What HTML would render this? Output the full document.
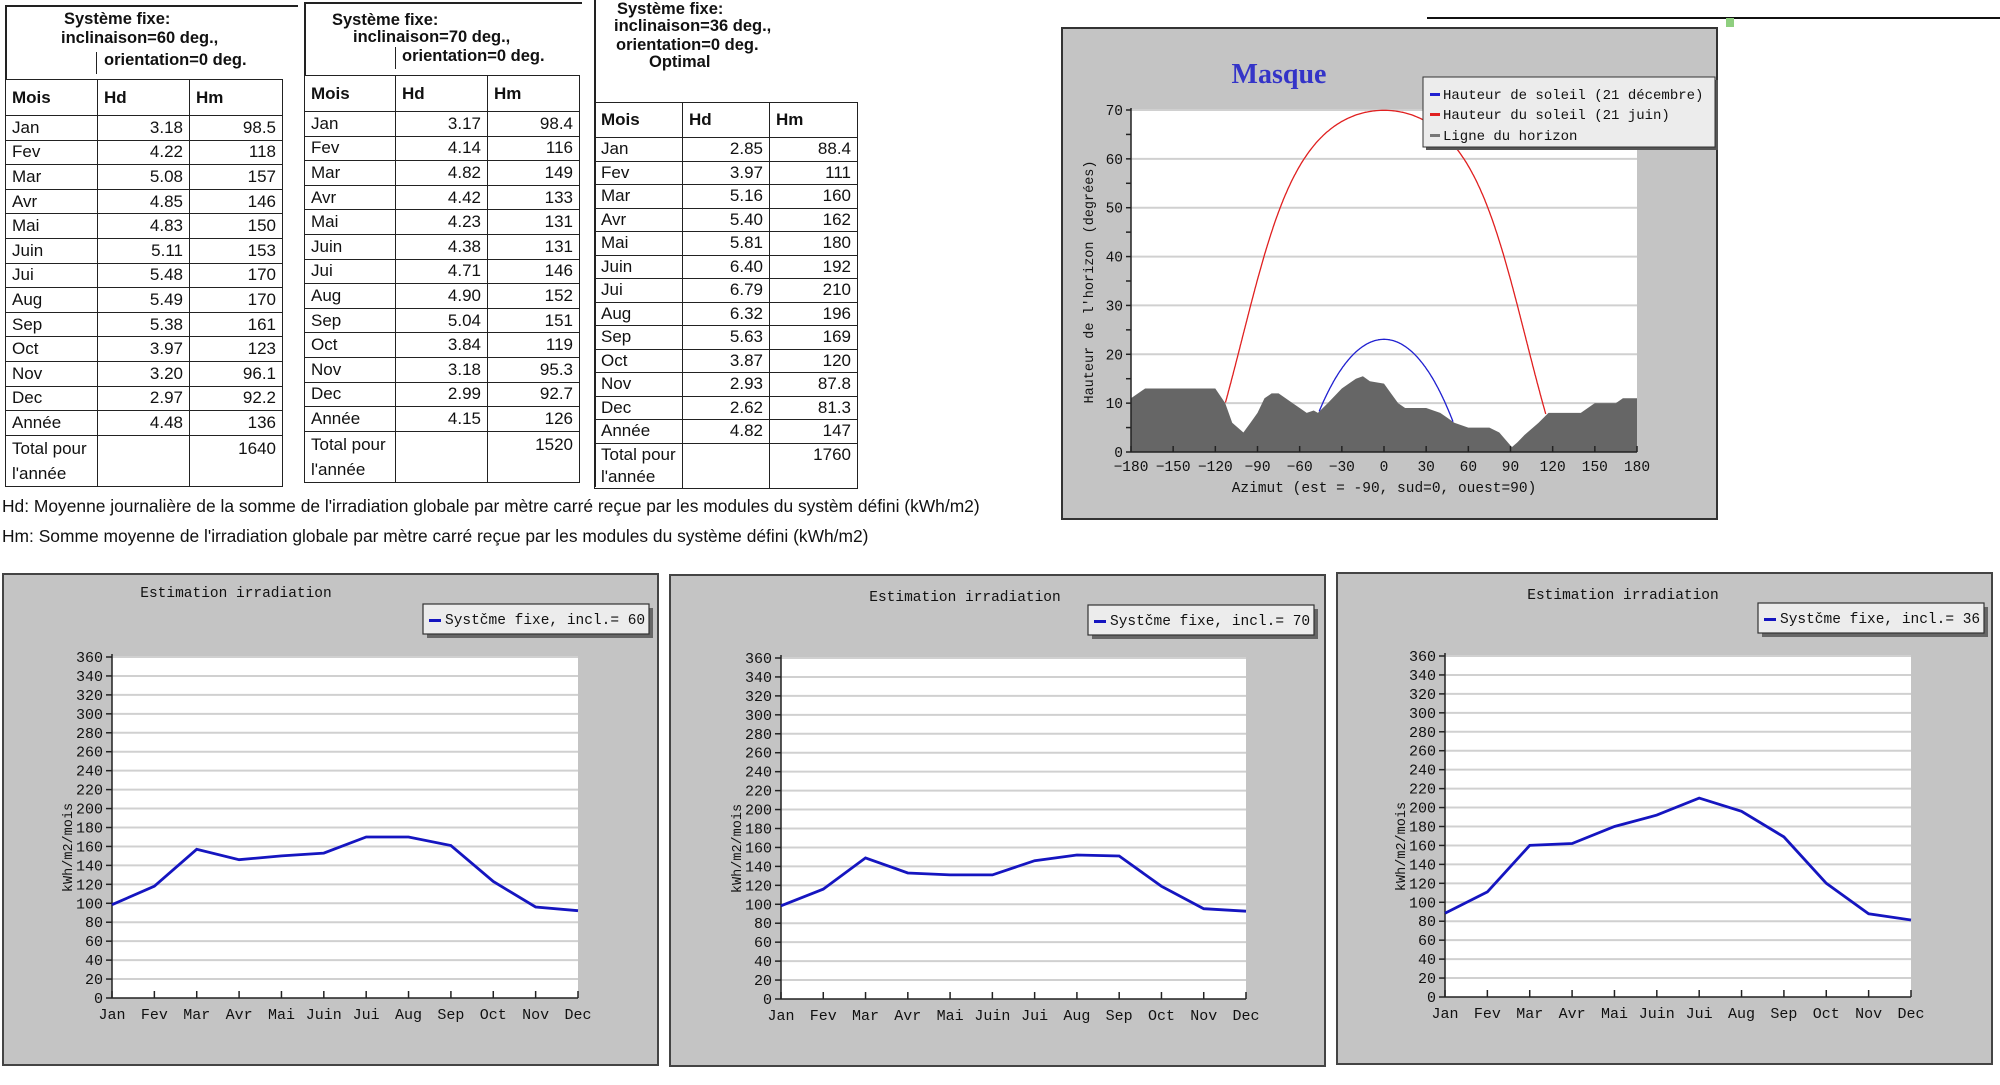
<!DOCTYPE html>
<html><head><meta charset="utf-8">
<style>
html,body{margin:0;padding:0;background:#fff;}
body{width:2000px;height:1085px;position:relative;overflow:hidden;font-family:"Liberation Sans",Arial,sans-serif;}
.t{position:absolute;border-collapse:collapse;table-layout:fixed;font-size:17px;color:#111;}
.t td{border:1.5px solid #222;padding:0 6px;overflow:hidden;white-space:nowrap;}
.t td.n{text-align:right;}
.t tr.h td{font-weight:bold;}
.t td.w{white-space:normal;line-height:25px;vertical-align:top;}
.tl{position:absolute;font-weight:bold;font-size:16.5px;white-space:nowrap;color:#111;}
.cap{position:absolute;left:2px;font-size:17.4px;white-space:nowrap;color:#111;}
.ln{position:absolute;background:#222;}
svg{position:absolute;left:0;top:0;}
</style></head><body>

<!-- Table 1 -->
<div class="ln" style="left:5px;top:5px;width:293px;height:2px"></div>
<div class="ln" style="left:5px;top:5px;width:2px;height:75px"></div>
<div class="ln" style="left:96px;top:52px;width:1px;height:22px"></div>
<div class="tl" style="left:64px;top:10px">Système fixe:</div>
<div class="tl" style="left:61px;top:29px">inclinaison=60 deg.,</div>
<div class="tl" style="left:104px;top:51px">orientation=0 deg.</div>
<table class="t" style="left:5px;top:79px;width:277px">
<colgroup><col style="width:92px"><col style="width:92px"><col style="width:93px"></colgroup>
<tr class="h" style="height:36px"><td>Mois</td><td>Hd</td><td>Hm</td></tr>
<tr style="height:24.6px"><td>Jan</td><td class="n">3.18</td><td class="n">98.5</td></tr>
<tr style="height:24.6px"><td>Fev</td><td class="n">4.22</td><td class="n">118</td></tr>
<tr style="height:24.6px"><td>Mar</td><td class="n">5.08</td><td class="n">157</td></tr>
<tr style="height:24.6px"><td>Avr</td><td class="n">4.85</td><td class="n">146</td></tr>
<tr style="height:24.6px"><td>Mai</td><td class="n">4.83</td><td class="n">150</td></tr>
<tr style="height:24.6px"><td>Juin</td><td class="n">5.11</td><td class="n">153</td></tr>
<tr style="height:24.6px"><td>Jui</td><td class="n">5.48</td><td class="n">170</td></tr>
<tr style="height:24.6px"><td>Aug</td><td class="n">5.49</td><td class="n">170</td></tr>
<tr style="height:24.6px"><td>Sep</td><td class="n">5.38</td><td class="n">161</td></tr>
<tr style="height:24.6px"><td>Oct</td><td class="n">3.97</td><td class="n">123</td></tr>
<tr style="height:24.6px"><td>Nov</td><td class="n">3.20</td><td class="n">96.1</td></tr>
<tr style="height:24.6px"><td>Dec</td><td class="n">2.97</td><td class="n">92.2</td></tr>
<tr style="height:24.6px"><td>Année</td><td class="n">4.48</td><td class="n">136</td></tr>
<tr style="height:50px"><td class="w">Total pour l'année</td><td></td><td class="n" style="vertical-align:top;line-height:25px">1640</td></tr>
</table>

<!-- Table 2 -->
<div class="ln" style="left:304px;top:2px;width:278px;height:2px"></div>
<div class="ln" style="left:304px;top:2px;width:2px;height:74px"></div>
<div class="ln" style="left:395px;top:47px;width:1px;height:22px"></div>
<div class="tl" style="left:332px;top:11px">Système fixe:</div>
<div class="tl" style="left:353px;top:28px">inclinaison=70 deg.,</div>
<div class="tl" style="left:402px;top:47px">orientation=0 deg.</div>
<table class="t" style="left:304px;top:75px;width:275px">
<colgroup><col style="width:91px"><col style="width:92px"><col style="width:92px"></colgroup>
<tr class="h" style="height:36px"><td>Mois</td><td>Hd</td><td>Hm</td></tr>
<tr style="height:24.6px"><td>Jan</td><td class="n">3.17</td><td class="n">98.4</td></tr>
<tr style="height:24.6px"><td>Fev</td><td class="n">4.14</td><td class="n">116</td></tr>
<tr style="height:24.6px"><td>Mar</td><td class="n">4.82</td><td class="n">149</td></tr>
<tr style="height:24.6px"><td>Avr</td><td class="n">4.42</td><td class="n">133</td></tr>
<tr style="height:24.6px"><td>Mai</td><td class="n">4.23</td><td class="n">131</td></tr>
<tr style="height:24.6px"><td>Juin</td><td class="n">4.38</td><td class="n">131</td></tr>
<tr style="height:24.6px"><td>Jui</td><td class="n">4.71</td><td class="n">146</td></tr>
<tr style="height:24.6px"><td>Aug</td><td class="n">4.90</td><td class="n">152</td></tr>
<tr style="height:24.6px"><td>Sep</td><td class="n">5.04</td><td class="n">151</td></tr>
<tr style="height:24.6px"><td>Oct</td><td class="n">3.84</td><td class="n">119</td></tr>
<tr style="height:24.6px"><td>Nov</td><td class="n">3.18</td><td class="n">95.3</td></tr>
<tr style="height:24.6px"><td>Dec</td><td class="n">2.99</td><td class="n">92.7</td></tr>
<tr style="height:24.6px"><td>Année</td><td class="n">4.15</td><td class="n">126</td></tr>
<tr style="height:50px"><td class="w">Total pour l'année</td><td></td><td class="n" style="vertical-align:top;line-height:25px">1520</td></tr>
</table>

<!-- Table 3 -->
<div class="ln" style="left:594px;top:0px;width:2px;height:487px"></div>
<div class="tl" style="left:617px;top:0px">Système fixe:</div>
<div class="tl" style="left:614px;top:17px">inclinaison=36 deg.,</div>
<div class="tl" style="left:616px;top:36px">orientation=0 deg.</div>
<div class="tl" style="left:649px;top:53px">Optimal</div>
<table class="t" style="left:594px;top:102px;width:263px">
<colgroup><col style="width:88px"><col style="width:87px"><col style="width:88px"></colgroup>
<tr class="h" style="height:35px"><td>Mois</td><td>Hd</td><td>Hm</td></tr>
<tr style="height:23.5px"><td>Jan</td><td class="n">2.85</td><td class="n">88.4</td></tr>
<tr style="height:23.5px"><td>Fev</td><td class="n">3.97</td><td class="n">111</td></tr>
<tr style="height:23.5px"><td>Mar</td><td class="n">5.16</td><td class="n">160</td></tr>
<tr style="height:23.5px"><td>Avr</td><td class="n">5.40</td><td class="n">162</td></tr>
<tr style="height:23.5px"><td>Mai</td><td class="n">5.81</td><td class="n">180</td></tr>
<tr style="height:23.5px"><td>Juin</td><td class="n">6.40</td><td class="n">192</td></tr>
<tr style="height:23.5px"><td>Jui</td><td class="n">6.79</td><td class="n">210</td></tr>
<tr style="height:23.5px"><td>Aug</td><td class="n">6.32</td><td class="n">196</td></tr>
<tr style="height:23.5px"><td>Sep</td><td class="n">5.63</td><td class="n">169</td></tr>
<tr style="height:23.5px"><td>Oct</td><td class="n">3.87</td><td class="n">120</td></tr>
<tr style="height:23.5px"><td>Nov</td><td class="n">2.93</td><td class="n">87.8</td></tr>
<tr style="height:23.5px"><td>Dec</td><td class="n">2.62</td><td class="n">81.3</td></tr>
<tr style="height:23.5px"><td>Année</td><td class="n">4.82</td><td class="n">147</td></tr>
<tr style="height:44px"><td class="w" style="line-height:22px">Total pour l'année</td><td></td><td class="n" style="vertical-align:top;line-height:22px">1760</td></tr>
</table>

<div class="cap" style="top:496px">Hd: Moyenne journalière de la somme de l'irradiation globale par mètre carré reçue par les modules du systèm défini (kWh/m2)</div>
<div class="cap" style="top:526px">Hm: Somme moyenne de l'irradiation globale par mètre carré reçue par les modules du système défini (kWh/m2)</div>

<svg id="s" width="2000" height="1085" xmlns="http://www.w3.org/2000/svg"></svg>

<script>
var S='';
function L(x1,y1,x2,y2,c,w){S+='<line x1="'+x1+'" y1="'+y1+'" x2="'+x2+'" y2="'+y2+'" stroke="'+c+'" stroke-width="'+(w||1)+'"/>';}
function T(x,y,t,a,sz,extra){S+='<text x="'+x+'" y="'+y+'" text-anchor="'+(a||'start')+'" font-family="Liberation Mono, DejaVu Sans Mono, monospace" font-size="'+(sz||14)+'" fill="#111" '+(extra||'')+'>'+t+'</text>';}
function R(x,y,w,h,f,st,sw){S+='<rect x="'+x+'" y="'+y+'" width="'+w+'" height="'+h+'" fill="'+f+'"'+(st?' stroke="'+st+'" stroke-width="'+(sw||1)+'"':'')+'/>';}

/* ---- Masque chart ---- */
L(1427,18,2000,18,'#111',2);
R(1726,18,8,9,'#8fcf7f');
R(1062,28,655,491,'#c4c4c4','#333',2);
var px0=1131,px1=1637,py0=452,py1=110;
R(px0,py1,px1-px0,py0-py1,'#fff');
function ax(a){return px0+(a+180)/360*(px1-px0);}
function ay(e){return py0-e/70*(py0-py1);}
for(var e=10;e<=70;e+=10)L(px0,ay(e),px1,ay(e),'#d0d0d0',2);
var hz=[[-180,11],[-170,13],[-145,13],[-120,13],[-113,10],[-108,6],[-104,5],[-100,4],[-95,6],[-90,8],[-85,11],[-80,12],[-75,12],[-70,11],[-65,10],[-60,9],[-55,8],[-50,8.5],[-47,8],[-40,10],[-30,13],[-20,15],[-15,15.5],[-10,14.5],[0,14],[5,12],[10,10],[15,9],[30,9],[40,8],[45,7],[50,6],[60,5],[75,5],[82,4],[88,2],[91,1],[95,2],[100,3.5],[110,6],[117,8],[140,8],[145,9],[150,10],[165,10],[170,11],[180,11]];
function hor(a){for(var i=0;i<hz.length-1;i++){if(a>=hz[i][0]&&a<=hz[i+1][0]){var t=(a-hz[i][0])/(hz[i+1][0]-hz[i][0]);return hz[i][1]+t*(hz[i+1][1]-hz[i][1]);}}return 11;}
var p='M'+px0+','+py0;
hz.forEach(function(q){p+=' L'+ax(q[0]).toFixed(1)+','+ay(q[1]).toFixed(1);});
p+=' L'+px1+','+py0+' Z';
S+='<path d="'+p+'" fill="#666"/>';
function sun(dec,col){
 var phi=43.5*Math.PI/180,d=dec*Math.PI/180,pts=[];
 for(var H=-180;H<=180;H+=0.5){var h=H*Math.PI/180;
  var se=Math.sin(phi)*Math.sin(d)+Math.cos(phi)*Math.cos(d)*Math.cos(h);
  var el=Math.asin(se)*180/Math.PI;
  var az=Math.atan2(Math.sin(h),Math.cos(h)*Math.sin(phi)-Math.tan(d)*Math.cos(phi))*180/Math.PI;
  if(el>=hor(az))pts.push(ax(az).toFixed(1)+','+ay(el).toFixed(1));}
 S+='<polyline points="'+pts.join(' ')+'" fill="none" stroke="'+col+'" stroke-width="1.3"/>';}
sun(23.44,'#e02020');sun(-23.44,'#2020d0');
L(px0,py1-2,px0,py0,'#222',1.5);L(px0,py0,px1,py0,'#222',1.5);
for(var e=0;e<=70;e+=5){L(px0-5,ay(e),px0,ay(e),'#222',1.5);if(e%10==0)T(px0-8,ay(e)+5,e,'end',14.5);}
for(var a=-180;a<=180;a+=30){L(ax(a),py0-6,ax(a),py0,'#222',1.5);T(ax(a),471,String(a).replace('-','−'),'middle',14.5);}
T(1384,492,'Azimut (est = -90, sud=0, ouest=90)','middle',14.5);
T(1093,282,"Hauteur de l'horizon (degrées)",'middle',13.5,'transform="rotate(-90 1093 282)"');
S+='<text x="1279" y="83" text-anchor="middle" font-family="Liberation Serif, serif" font-size="28" font-weight="600" fill="#3434c8">Masque</text>';
R(1426,80,292,70,'#555');
R(1423,77,292,70,'#ececec','#333',1);
[['#2020d0','Hauteur de soleil (21 décembre)',94],['#e02020','Hauteur du soleil (21 juin)',114],['#777','Ligne du horizon',135]].forEach(function(q){
 R(1430,q[2]-1,10,3,q[0]);T(1443,q[2]+5,q[1],'start',14);});

/* ---- Bottom charts ---- */
var months=['Jan','Fev','Mar','Avr','Mai','Juin','Jui','Aug','Sep','Oct','Nov','Dec'];
function chart(bx,by,bw,bh,plx,ply0,ply1,plw,data,lab,lgx,lgy,lgw,tx,ty){
 R(bx,by,bw,bh,'#c4c4c4','#444',2);
 R(plx,ply0,plw,ply1-ply0,'#fff');
 function yy(v){return ply1-v/360*(ply1-ply0);}
 function xx(i){return plx+i*plw/11;}
 for(var v=20;v<=360;v+=20)L(plx,yy(v),plx+plw,yy(v),'#d0d0d0',2);
 L(plx,ply0-3,plx,ply1,'#222',1.5);L(plx,ply1,plx+plw,ply1,'#222',1.5);
 for(var v=0;v<=360;v+=20){L(plx-6,yy(v),plx,yy(v),'#222',1.5);T(plx-9,yy(v)+5,v,'end',15);}
 for(var i=0;i<12;i++){L(xx(i),ply1-7,xx(i),ply1,'#222',1.5);T(xx(i),ply1+21,months[i],'middle',15);}
 var pts=data.map(function(v,i){return xx(i).toFixed(1)+','+yy(v).toFixed(1);});
 S+='<polyline points="'+pts.join(' ')+'" fill="none" stroke="#1515c0" stroke-width="2.8"/>';
 T(plx-40,(ply0+ply1)/2+20,'kWh/m2/mois','middle',13.5,'transform="rotate(-90 '+(plx-40)+' '+((ply0+ply1)/2+20)+')"');
 T(tx,ty,'Estimation irradiation','middle',14.5);
 R(lgx+4,lgy+4,lgw,30,'#666');
 R(lgx,lgy,lgw,30,'#ececec','#333',1.2);
 R(lgx+6,lgy+15,12,3,'#1515c0');
 T(lgx+22,lgy+20,'Systčme fixe, incl.= '+lab,'start',14.5);
}
chart(3,574,655,491,112,657,998,466,[98.5,118,157,146,150,153,170,170,161,123,96.1,92.2],'60',423,604,226,236,597);
chart(670,575,655,491,781,658,999,465,[98.4,116,149,133,131,131,146,152,151,119,95.3,92.7],'70',1088,605,226,965,601);
chart(1337,573,655,491,1445,656,997,466,[88.4,111,160,162,180,192,210,196,169,120,87.8,81.3],'36',1758,603,226,1623,599);

document.getElementById('s').innerHTML=S;
</script>
</body></html>
